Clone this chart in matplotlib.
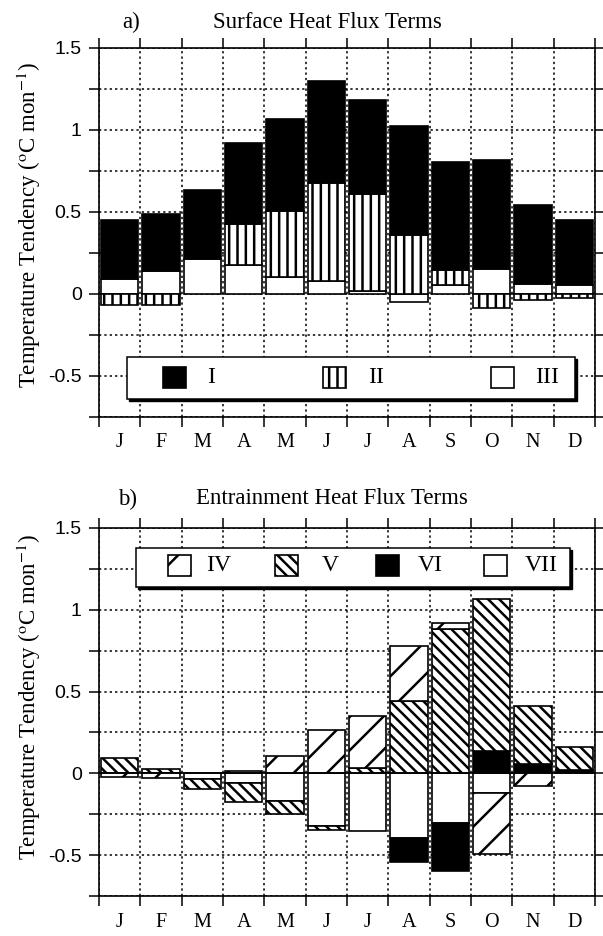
import numpy as np
import matplotlib
matplotlib.use("Agg")
import matplotlib.pyplot as plt
from matplotlib.patches import Rectangle

months = ['J', 'F', 'M', 'A', 'M', 'J', 'J', 'A', 'S', 'O', 'N', 'D']

### a) surface heat flux terms (deg C / month)
term_I = [0.365, 0.351, 0.419, 0.494, 0.559, 0.619, 0.573, 0.666, 0.654, 0.667, 0.482, 0.402]
term_II = [-0.067, -0.067, 0.0, 0.247, 0.405, 0.597, 0.590, 0.360, 0.097, -0.085, -0.037, -0.026]
term_III = [0.088, 0.139, 0.214, 0.178, 0.102, 0.081, 0.020, -0.050, 0.051, 0.152, 0.061, 0.051]

### b) entrainment heat flux terms
term_IV = [-0.025, -0.027, 0.0, 0.015, 0.106, 0.264, 0.323, 0.334, 0.037, -0.371, -0.075, 0.0]
term_V = [0.092, 0.025, -0.060, -0.117, -0.080, -0.024, 0.030, 0.445, 0.883, 0.927, 0.352, 0.143]
term_VI = [0.0, 0.0, 0.0, 0.0, 0.0, 0.0, 0.0, -0.151, -0.291, 0.137, 0.060, 0.020]
term_VII = [0.0, 0.0, -0.035, -0.061, -0.170, -0.320, -0.355, -0.393, -0.304, -0.120, 0.0, 0.0]

plt.rcParams['font.family'] = ['Liberation Serif', 'DejaVu Serif']
plt.rcParams['mathtext.fontset'] = 'stix'
plt.rcParams['hatch.linewidth'] = 1.8
plt.rcParams['hatch.color'] = 'black'

black = dict(facecolor='black', edgecolor='black')
white = dict(facecolor='white', edgecolor='black')
vstripe = dict(facecolor='white', edgecolor='black', hatch='||')
fwd = dict(facecolor='white', edgecolor='black', hatch='/')
back = dict(facecolor='white', edgecolor='black', hatch='\\\\\\')


def stacked_bars(ax, terms, styles):
    x = np.arange(len(months)) + 0.5
    pos = np.zeros(len(x))
    neg = np.zeros(len(x))
    for vals, st in zip(terms, styles):
        v = np.asarray(vals, dtype=float)
        base = np.where(v >= 0, pos, neg)
        m = v != 0
        ax.bar(x[m], v[m], bottom=base[m], width=0.9, linewidth=1.2, zorder=2, **st)
        pos += np.clip(v, 0, None)
        neg += np.clip(v, None, 0)


def setup_axes(ax):
    ax.set_xlim(0, 12)
    ax.set_ylim(-0.75, 1.5)
    ax.set_xticks(np.arange(13))
    ax.set_xticklabels([])
    ax.set_xticks(np.arange(12) + 0.5, minor=True)
    ax.set_xticklabels(months, minor=True, fontsize=14.5)
    ax.set_yticks([-0.5, 0, 0.5, 1, 1.5])
    ax.set_yticklabels(['-0.5', '0', '0.5', '1', '1.5'], family='Liberation Sans', fontsize=14)
    ax.set_yticks(np.arange(-0.75, 1.51, 0.25), minor=True)
    ax.tick_params(which='both', direction='out', length=7.5, width=1.1,
                   top=True, right=True)
    ax.tick_params(axis='x', which='minor', length=0, top=False, pad=12)
    ax.tick_params(axis='y', which='major', pad=5)
    ax.grid(axis='x', which='major', color='black', linestyle=(0, (1.5, 2)), linewidth=1.1, zorder=0)
    ax.grid(axis='y', which='both', color='black', linestyle=(0, (1.5, 2)), linewidth=1.1, zorder=0)
    ax.set_axisbelow(True)
    for s in ax.spines.values():
        s.set_linewidth(1.2)


def draw_legend(ax, box, yc, entries):
    x0, x1, y0, y1 = box
    ax.add_patch(Rectangle((x0 + 0.05, y0 - 0.012), x1 - x0, y1 - y0, facecolor='black',
                           edgecolor='black', zorder=5))
    ax.add_patch(Rectangle((x0, y0), x1 - x0, y1 - y0, facecolor='white',
                           edgecolor='black', linewidth=1.1, zorder=5.5))
    for hx, lx, label, st in entries:
        ax.add_patch(Rectangle((hx, yc - 0.065), 0.55, 0.13, linewidth=1.2, zorder=6, **st))
        ax.text(lx, yc, label, va='center', ha='left', fontsize=17, zorder=7)


fig = plt.figure(figsize=(6.03, 9.36), dpi=100)
W, H = 603.0, 936.0
ax1 = fig.add_axes([99 / W, 1 - 416.7 / H, 496 / W, (416.7 - 48) / H])
ax2 = fig.add_axes([99 / W, 1 - 896 / H, 496 / W, (896 - 528) / H])

setup_axes(ax1)
stacked_bars(ax1, [term_III, term_II, term_I], [white, vstripe, black])
draw_legend(ax1, (0.68, 11.52, -0.644, -0.387), -0.51,
            [(1.55, 2.62, 'I', black), (5.42, 6.5, 'II', vstripe), (9.48, 10.55, 'III', white)])

setup_axes(ax2)
stacked_bars(ax2, [term_VII, term_VI, term_V, term_IV], [white, black, back, fwd])
ax2.axhline(0, color='black', linewidth=1.2, zorder=3)
draw_legend(ax2, (0.9, 11.4, 1.141, 1.38), 1.27,
            [(1.67, 2.6, 'IV', fwd), (4.26, 5.4, 'V', back),
             (6.7, 7.72, 'VI', black), (9.32, 10.3, 'VII', white)])

fig.text(122 / W, 1 - 22 / H, 'a)', fontsize=16.5, va='center', ha='left')
fig.text(213 / W, 1 - 22 / H, 'Surface Heat Flux Terms', fontsize=16.5, va='center', ha='left')
fig.text(118 / W, 1 - 499 / H, 'b)', fontsize=16.5, va='center', ha='left')
fig.text(196 / W, 1 - 499 / H, 'Entrainment Heat Flux Terms', fontsize=16.5, va='center', ha='left')

ylab = r'Temperature Tendency ($^{\mathrm{o}}$C mon$^{-1}$)'
fig.text(29 / W, 1 - 225 / H, ylab, rotation=90, fontsize=16.5, va='center', ha='center')
fig.text(29 / W, 1 - 697 / H, ylab, rotation=90, fontsize=16.5, va='center', ha='center')

fig.savefig('out.png', dpi=100)
